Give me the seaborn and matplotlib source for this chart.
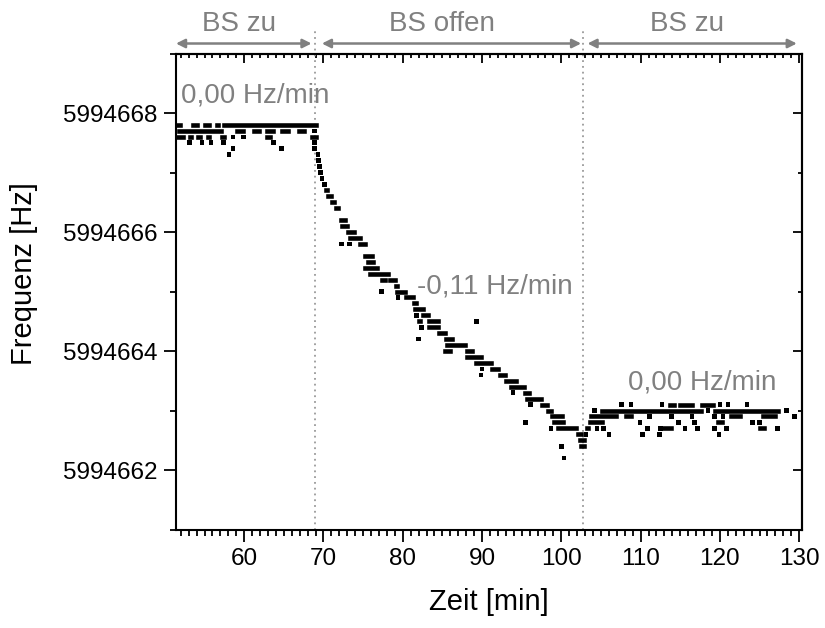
import matplotlib
matplotlib.use("Agg")
import matplotlib.pyplot as plt
import seaborn as sns
import pandas as pd
from matplotlib.ticker import MultipleLocator, FuncFormatter

# ---------------- data ----------------
# horizontal runs of consecutive measurement points at one frequency level
run_start = [
    51.7, 53.5, 55.0, 56.6, 57.4,
    51.8, 59.1, 61.2, 62.9, 64.8, 66.9,
    51.7, 53.2, 54.2, 55.5, 57.2, 62.9, 68.6,
    70.3, 70.6, 71.1, 71.6, 71.9, 72.2, 72.4, 73.1, 73.4, 74.6,
    75.3, 75.6, 75.3, 75.9, 77.4, 78.4, 79.1, 79.3, 80.4, 81.4,
    81.5, 82.5, 82.0, 83.3, 83.3, 84.6, 85.4, 85.6, 85.3, 88.1,
    88.1, 89.3, 91.3, 92.3, 93.0, 93.7, 95.4, 95.7, 97.5, 98.3,
    98.8, 99.1, 99.6, 102.1, 102.4, 102.5,
    113.7, 115.0, 117.7, 105.1, 119.4, 103.8, 108.2, 121.4, 125.4,
    103.6, 119.8, 103.2, 112.9, 125.1,
]
run_end = [
    51.9, 54.0, 55.6, 56.7, 69.0,
    57.1, 59.8, 61.9, 63.6, 65.5, 67.6,
    52.3, 53.3, 54.4, 55.6, 57.5, 63.2, 69.1,
    70.5, 70.9, 71.3, 71.8, 72.0, 72.7, 73.0, 73.9, 74.6, 75.2,
    76.1, 76.2, 76.8, 78.2, 77.7, 79.0, 79.3, 80.3, 81.3, 81.7,
    82.5, 83.2, 82.2, 84.4, 84.4, 85.3, 86.2, 87.8, 86.0, 88.7,
    89.9, 91.1, 92.0, 92.9, 94.3, 95.3, 95.9, 97.4, 98.2, 98.7,
    100.1, 100.2, 101.9, 102.5, 102.9, 102.8,
    114.2, 116.5, 119.1, 117.6, 127.3, 106.9, 108.8, 122.5, 126.9,
    105.1, 120.2, 103.4, 113.8, 125.6,
]
run_freq = [
    5994667.8, 5994667.8, 5994667.8, 5994667.8, 5994667.8,
    5994667.7, 5994667.7, 5994667.7, 5994667.7, 5994667.7, 5994667.7,
    5994667.6, 5994667.6, 5994667.6, 5994667.6, 5994667.6, 5994667.6, 5994667.6,
    5994666.7, 5994666.6, 5994666.5, 5994666.4, 5994666.3, 5994666.2, 5994666.1, 5994666.0, 5994665.9, 5994665.8,
    5994665.6, 5994665.5, 5994665.4, 5994665.3, 5994665.2, 5994665.2, 5994665.1, 5994665.0, 5994664.9, 5994664.8,
    5994664.7, 5994664.6, 5994664.5, 5994664.5, 5994664.4, 5994664.3, 5994664.2, 5994664.1, 5994664.0, 5994664.0,
    5994663.9, 5994663.8, 5994663.7, 5994663.6, 5994663.5, 5994663.4, 5994663.3, 5994663.2, 5994663.1, 5994663.0,
    5994662.9, 5994662.8, 5994662.7, 5994662.6, 5994662.5, 5994662.4,
    5994663.1, 5994663.1, 5994663.1, 5994663.0, 5994663.0, 5994662.9, 5994662.9, 5994662.9, 5994662.9,
    5994662.8, 5994662.8, 5994662.7, 5994662.7, 5994662.7,
]

# isolated single measurement points
dot_time = [
    68.9, 58.6, 59.9, 53.1, 54.7, 55.8, 57.4, 63.7, 68.9, 58.6, 64.7, 68.9, 58.1, 69.3,
    69.4, 69.5, 69.6, 69.8, 70.1, 72.3, 73.3, 77.3, 79.4, 81.7, 89.3, 82.4, 82.0,
    90.0, 89.85, 93.9, 96.1, 95.5, 98.7, 100.0, 100.35,
    107.6, 108.8, 112.7, 120.0, 121.0, 123.4,
    104.2, 118.5, 128.4,
    111.1, 113.9, 116.5, 119.3, 120.4, 129.4,
    109.9, 114.8, 116.8, 124.1, 125.0,
    104.5, 105.3, 110.9, 112.5, 115.6, 117.2, 119.3, 120.8, 127.3,
    103.1, 106.0, 110.2, 112.4, 119.9,
]
dot_freq = [
    5994667.7, 5994667.6, 5994667.6, 5994667.5, 5994667.5, 5994667.5, 5994667.5, 5994667.5, 5994667.5,
    5994667.4, 5994667.4, 5994667.4, 5994667.3, 5994667.3,
    5994667.2, 5994667.1, 5994667.0, 5994666.9, 5994666.8, 5994665.8, 5994665.8, 5994665.0, 5994664.9,
    5994664.6, 5994664.5, 5994664.4, 5994664.2,
    5994663.7, 5994663.6, 5994663.3, 5994663.1, 5994662.8, 5994662.7, 5994662.4, 5994662.2,
    5994663.1, 5994663.1, 5994663.1, 5994663.1, 5994663.1, 5994663.1,
    5994663.0, 5994663.0, 5994663.0,
    5994662.9, 5994662.9, 5994662.9, 5994662.9, 5994662.9, 5994662.9,
    5994662.8, 5994662.8, 5994662.8, 5994662.8, 5994662.8,
    5994662.7, 5994662.7, 5994662.7, 5994662.7, 5994662.7, 5994662.7, 5994662.7, 5994662.7, 5994662.7,
    5994662.6, 5994662.6, 5994662.6, 5994662.6, 5994662.6,
]

# phases of the beam shutter (BS) and slope annotations
phase_labels = ["BS zu", "BS offen", "BS zu"]
phase_label_x = [59.3, 85.0, 115.8]
phase_arrow_start = [51.4, 69.8, 103.3]
phase_arrow_end = [68.5, 102.5, 129.7]
switch_times = [68.88, 102.67]
slope_labels = ["0,00 Hz/min", "-0,11 Hz/min", "0,00 Hz/min"]
slope_x = [52.0, 81.8, 108.4]
slope_y = [5994668.17, 5994664.96, 5994663.36]

x_major = [60, 70, 80, 90, 100, 110, 120, 130]
y_major = [5994662, 5994664, 5994666, 5994668]

# ---------------- figure ----------------
sns.set_style("ticks")
plt.rcParams["font.family"] = ["Liberation Sans", "DejaVu Sans"]
plt.rcParams["text.color"] = "black"
plt.rcParams["axes.labelcolor"] = "black"

fig = plt.figure(figsize=(8.25, 6.28), dpi=100)
ax = fig.add_axes([0.2133, 0.1568, 0.7588, 0.758])

gray = "#808080"

# runs drawn as thick horizontal strokes with square ends
ax.hlines(run_freq, run_start, run_end, colors="black", linewidth=3.3,
          capstyle="projecting", zorder=3)
dots = pd.DataFrame({"t": dot_time, "f": dot_freq})
sns.scatterplot(data=dots, x="t", y="f", marker="s", s=11, color="black",
                edgecolor="none", linewidth=0, ax=ax, zorder=3)

ax.set_xlim(51.4, 130.35)
ax.set_ylim(5994661.0, 5994669.0)

xt = ax.get_xaxis_transform()
for t in switch_times:
    ax.plot([t, t], [0, 1.049], transform=xt, color="#9a9a9a",
            linestyle=(0, (1, 2.2)), linewidth=1.3, clip_on=False, zorder=1)

for a, b in zip(phase_arrow_start, phase_arrow_end):
    ax.annotate("", xy=(b, 1.021), xytext=(a, 1.021), xycoords=xt, textcoords=xt,
                arrowprops=dict(arrowstyle="<|-|>", color=gray, lw=1.8,
                                mutation_scale=13, shrinkA=0, shrinkB=0),
                annotation_clip=False)
for lab, x in zip(phase_labels, phase_label_x):
    ax.text(x, 1.048, lab, transform=xt, ha="center", va="baseline",
            fontsize=20, color=gray)

for lab, x, y in zip(slope_labels, slope_x, slope_y):
    ax.text(x, y, lab, ha="left", va="baseline", fontsize=20, color=gray)

# ticks
ax.set_xticks(x_major)
ax.set_yticks(y_major)
ax.xaxis.set_minor_locator(MultipleLocator(1))
ax.yaxis.set_minor_locator(MultipleLocator(1))
ax.yaxis.set_major_formatter(FuncFormatter(lambda v, p: f"{v:.0f}"))
ax.tick_params(which="both", direction="out", top=False, right=False,
               labelsize=17.5, width=1.3, color="black", labelcolor="black")
ax.tick_params(which="major", length=8.6, pad=5)
ax.tick_params(which="minor", length=4.3)

secx = ax.secondary_xaxis("top")
secx.set_xticks(x_major)
secx.xaxis.set_minor_locator(MultipleLocator(1))
secx.tick_params(which="both", direction="in", labeltop=False, width=1.3, color="black")
secx.tick_params(which="major", length=6.5)
secx.tick_params(which="minor", length=3.2)

secy = ax.secondary_yaxis("right")
secy.set_yticks(y_major)
secy.yaxis.set_minor_locator(MultipleLocator(1))
secy.tick_params(which="both", direction="in", labelright=False, width=1.3, color="black")
secy.tick_params(which="major", length=6.5)
secy.tick_params(which="minor", length=3.2)

for sp in list(ax.spines.values()) + list(secx.spines.values()) + list(secy.spines.values()):
    sp.set_linewidth(1.5)
    sp.set_color("black")

ax.set_xlabel("Zeit [min]", fontsize=21, color="black")
ax.set_ylabel("Frequenz [Hz]", fontsize=21, color="black")
ax.xaxis.set_label_coords(0.5, -0.123)
ax.yaxis.set_label_coords(-0.22, 0.537)

fig.savefig("out.png", dpi=100)
